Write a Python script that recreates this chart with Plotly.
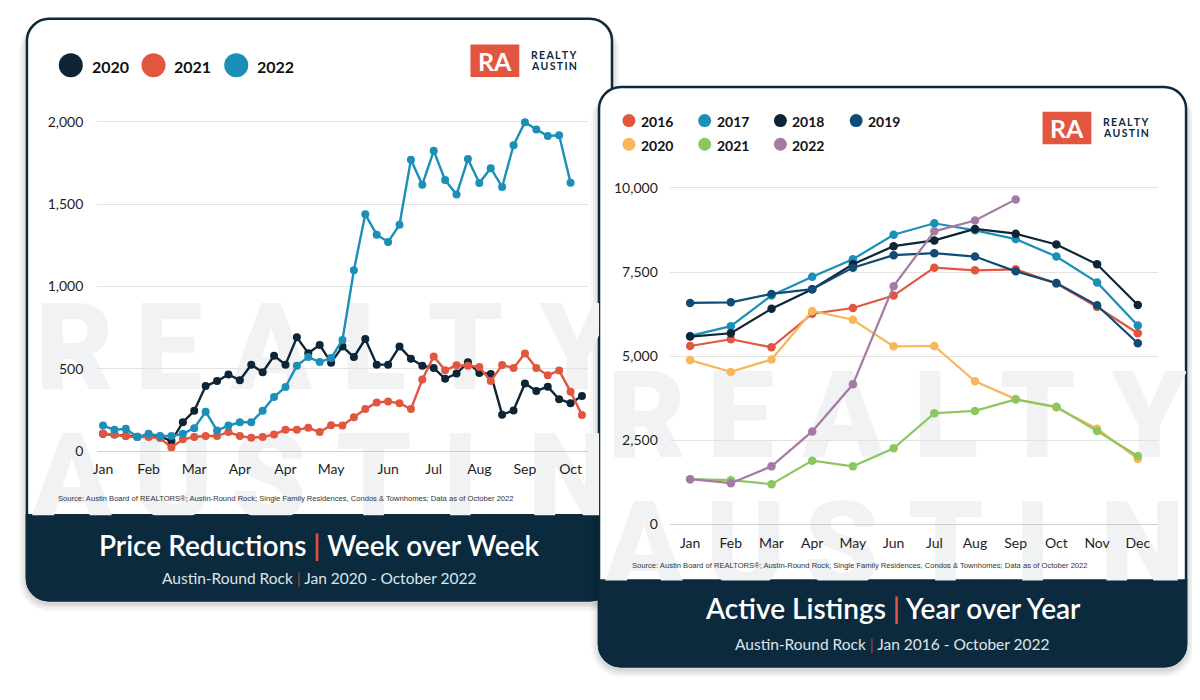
import plotly.graph_objects as go

# ---------------- data ----------------
# Price reductions, week over week (weeks Jan - Oct)
reduction_years = ["2020", "2021", "2022"]
week_no = list(range(1, 44))
week_tick_pos = [1, 5, 9, 13, 17, 21, 26, 30, 34, 38, 42]
week_tick_text = ["Jan", "Feb", "Mar", "Apr", "Apr", "May", "Jun", "Jul", "Aug", "Sep", "Oct"]

reductions_2020 = [104, 100, 92, 86, 90, 88, 60, 174, 244, 394, 424, 464, 430, 524, 478,
                   578, 524, 690, 594, 644, 536, 634, 570, 680, 524, 524, 634, 560, 518,
                   504, 438, 470, 538, 474, 468, 220, 246, 410, 364, 390, 314, 290, 334]
reductions_2021 = [104, 100, 90, 84, 84, 78, 20, 70, 84, 90, 90, 114, 90, 80, 84, 100, 128,
                   128, 140, 114, 156, 154, 204, 254, 294, 300, 290, 254, 434, 574, 490,
                   520, 518, 510, 424, 522, 504, 592, 504, 460, 488, 360, 218]
reductions_2022 = [154, 128, 134, 84, 104, 90, 90, 104, 138, 238, 124, 154, 174, 174, 244,
                   328, 388, 518, 570, 540, 564, 674, 1098, 1438, 1314, 1270, 1374, 1770,
                   1618, 1824, 1646, 1558, 1774, 1628, 1718, 1604, 1858, 1998, 1954, 1914,
                   1918, 1630]

# Active listings, year over year
listing_years = ["2016", "2017", "2018", "2019", "2020", "2021", "2022"]
months = ["Jan", "Feb", "Mar", "Apr", "May", "Jun", "Jul", "Aug", "Sep", "Oct", "Nov", "Dec"]
listings_2016 = [5300, 5500, 5260, 6260, 6430, 6800, 7630, 7550, 7580, 7160, 6460, 5680]
listings_2017 = [5600, 5890, 6800, 7360, 7880, 8610, 8950, 8740, 8480, 7960, 7190, 5910]
listings_2018 = [5580, 5680, 6410, 6990, 7730, 8270, 8440, 8780, 8640, 8320, 7730, 6520]
listings_2019 = [6580, 6600, 6850, 6990, 7630, 8000, 8060, 7960, 7520, 7170, 6510, 5380]
listings_2020 = [4880, 4530, 4900, 6340, 6080, 5290, 5300, 4250, 3720, 3470, 2840, 1940]
listings_2021 = [1340, 1310, 1190, 1890, 1720, 2260, 3300, 3370, 3710, 3490, 2770, 2030]
listings_2022 = [1340, 1220, 1720, 2760, 4160, 7080, 8710, 9030, 9660]

source_text = ("Source: Austin Board of REALTORS®; Austin-Round Rock; Single Family Residences, "
               "Condos & Townhomes; Data as of October 2022")

# ---------------- style ----------------
# the page body keeps its 8px margin, so the figure is 8px smaller and all
# layout coordinates below are given in window pixels
PAD = 8
W, H = 1200 - PAD, 700 - PAD
NAVY = "#0c2a3d"
RED = "#e2553f"
left_colors = ["#0d2536", RED, "#1b8fb8"]
right_colors = [RED, "#1b8fb8", "#0d2536", "#0f4c75", "#f6b75c", "#8cc65e", "#a47aa4"]
WATERMARK = "#f1f2f4"
TICK_FONT = dict(family="Lato", size=14, color="#1e1e1e")

# card boxes in pixels (x0, y0, x1, y1) and top of the dark footer band
LEFT_CARD = (23, 18, 610, 607)
LEFT_BAND = 521
RIGHT_CARD = (597, 87, 1186, 674)
RIGHT_BAND = 587


def fx(x):
    return (x - PAD) / W


def fy(y):
    return 1 - (y - PAD) / H


def rounded_path(x0, y0, x1, y1, r, top=True, bottom=True):
    """Rounded rectangle given in pixels, returned as a paper-coordinate svg path."""
    k = 0.45
    rx, ry = r / W, r / H
    X0, X1, Yt, Yb = fx(x0), fx(x1), fy(y0), fy(y1)
    if top:
        p = (f"M{X0},{Yt - ry} C{X0},{Yt - ry * k} {X0 + rx * k},{Yt} {X0 + rx},{Yt} "
             f"L{X1 - rx},{Yt} C{X1 - rx * k},{Yt} {X1},{Yt - ry * k} {X1},{Yt - ry} ")
    else:
        p = f"M{X0},{Yt} L{X1},{Yt} "
    if bottom:
        p += (f"L{X1},{Yb + ry} C{X1},{Yb + ry * k} {X1 - rx * k},{Yb} {X1 - rx},{Yb} "
              f"L{X0 + rx},{Yb} C{X0 + rx * k},{Yb} {X0},{Yb + ry * k} {X0},{Yb + ry} Z")
    else:
        p += f"L{X1},{Yb} L{X0},{Yb} Z"
    return p


def card_shapes(box, band_top):
    x0, y0, x1, y1 = box
    shapes = []
    # soft drop shadow, mostly below the card
    for i, a in enumerate([0.03, 0.035, 0.04, 0.05]):
        g = 8 - i * 2
        shapes.append(dict(type="path", xref="paper", yref="paper", layer="below",
                           path=rounded_path(x0 - g, y0 + 4, x1 + g, y1 + g + 3, 22 + g),
                           fillcolor=f"rgba(0,0,0,{a})", line=dict(width=0)))
    shapes.append(dict(type="path", xref="paper", yref="paper", layer="below",
                       path=rounded_path(x0, y0, x1, y1, 22),
                       fillcolor="white", line=dict(color=NAVY, width=2.5)))
    shapes.append(dict(type="path", xref="paper", yref="paper", layer="below",
                       path=rounded_path(x0, band_top, x1, y1, 22, top=False),
                       fillcolor=NAVY, line=dict(color=NAVY, width=2.5)))
    return shapes


def logo(x0, y0):
    shape = dict(type="rect", xref="paper", yref="paper", layer="below",
                 x0=fx(x0), x1=fx(x0 + 49), y0=fy(y0 + 33), y1=fy(y0),
                 fillcolor=RED, line=dict(width=0))
    notes = [
        dict(text="<b>RA</b>", x=fx(x0 + 24.5), y=fy(y0 + 17), font=dict(family="Lato", size=25, color="white")),
        dict(text="<b>R\u2009E\u2009A\u2009L\u2009T\u2009Y</b>", x=fx(x0 + 59), y=fy(y0 + 10.5),
             xanchor="left", font=dict(family="Lato", size=10.5, color=NAVY)),
        dict(text="<b>A\u2009U\u2009S\u2009T\u2009I\u2009N</b>", x=fx(x0 + 59), y=fy(y0 + 21.5),
             xanchor="left", font=dict(family="Lato", size=10.5, color=NAVY)),
    ]
    return shape, notes


def watermark_traces(box, axes):
    # big faint REALTY / AUSTIN letters behind each chart (pixel coordinates)
    x0, y0 = box[0], box[1]
    rows = [("REALTY", [48, 142, 245, 348, 440, 552], 345),
            ("AUSTIN", [45, 147, 243, 348, 435, 545], 476)]
    traces = []
    for word, offs, dy in rows:
        traces.append(go.Scatter(
            x=[x0 + o for o in offs], y=[y0 + dy] * len(word), text=list(word),
            mode="text", textposition="middle center", cliponaxis=True,
            textfont=dict(family="Roboto", size=120, color=WATERMARK, weight=900),
            hoverinfo="skip", showlegend=False, xaxis=axes[0], yaxis=axes[1]))
    return traces


fig = go.Figure()

# watermark layers (drawn first, clipped at the footer band)
for tr in watermark_traces(LEFT_CARD, ("x", "y")) + watermark_traces(RIGHT_CARD, ("x2", "y2")):
    fig.add_trace(tr)

# legends drawn as coloured dots
fig.add_trace(go.Scatter(
    x=[67 + 83 * i for i in range(len(reduction_years))], y=[65] * len(reduction_years),
    mode="markers", marker=dict(size=24, color=left_colors), hoverinfo="skip",
    showlegend=False, xaxis="x", yaxis="y"))
fig.add_trace(go.Scatter(
    x=[627 + 76 * (i % 4) for i in range(len(listing_years))],
    y=[121 + 24 * (i // 4) for i in range(len(listing_years))],
    mode="markers", marker=dict(size=13, color=right_colors), hoverinfo="skip",
    showlegend=False, xaxis="x2", yaxis="y2"))

# price reductions
for name, vals, col in zip(reduction_years, [reductions_2020, reductions_2021, reductions_2022], left_colors):
    fig.add_trace(go.Scatter(
        x=week_no[:len(vals)], y=vals, name=name, mode="lines+markers", cliponaxis=False,
        line=dict(color=col, width=2.4), marker=dict(size=8, color=col),
        showlegend=False, xaxis="x3", yaxis="y3"))

# active listings
listing_series = [listings_2016, listings_2017, listings_2018, listings_2019,
                  listings_2020, listings_2021, listings_2022]
for name, vals, col in zip(listing_years, listing_series, right_colors):
    fig.add_trace(go.Scatter(
        x=months[:len(vals)], y=vals, name=name, mode="lines+markers", cliponaxis=False,
        line=dict(color=col, width=2.2), marker=dict(size=8.5, color=col),
        showlegend=False, xaxis="x4", yaxis="y4"))

shapes = card_shapes(LEFT_CARD, LEFT_BAND) + card_shapes(RIGHT_CARD, RIGHT_BAND)
annotations = []
for lx, ly in [(468, 44), (1042, 112)]:
    s, notes = logo(lx, ly)
    shapes.append(s)
    for n in notes:
        n.setdefault("xanchor", "center")
        annotations.append(n)

# legend labels
for i, yr in enumerate(reduction_years):
    annotations.append(dict(text=f"<b>{yr}</b>", x=fx(67 + 83 * i + 19), y=fy(66),
                            font=dict(family="Lato", size=16, color="#111")))
for i, yr in enumerate(listing_years):
    annotations.append(dict(text=f"<b>{yr}</b>", x=fx(627 + 76 * (i % 4) + 10), y=fy(122 + 24 * (i // 4)),
                            font=dict(family="Lato", size=14, color="#111")))

# sources, titles, subtitles
for cx, src_x, src_y, title_y, sub_y, title, second, sub in [
    (316.5, 52, 504, 551, 584, "Price Reductions", "Week over Week", "Jan 2020 - October 2022"),
    (891.5, 628, 572, 615, 651, "Active Listings", "Year over Year", "Jan 2016 - October 2022"),
]:
    annotations.append(dict(text=source_text, x=fx(src_x), y=fy(src_y),
                            font=dict(family="Liberation Sans", size=7.6, color="#333")))
    annotations.append(dict(
        text=f"{title} <span style='color:{RED}'>|</span> {second}",
        x=fx(cx), y=fy(title_y), xanchor="center",
        font=dict(family="Lato", size=28, color="white", weight=600)))
    annotations.append(dict(
        text=f"Austin-Round Rock <span style='color:#a8463b'>|</span> {sub}",
        x=fx(cx), y=fy(sub_y), xanchor="center",
        font=dict(family="Lato", size=15.5, color="#dde5ea")))

for a in annotations:
    a.setdefault("xanchor", "left")
    a.update(xref="paper", yref="paper", showarrow=False, yanchor="middle")

hidden = dict(visible=False, fixedrange=True)
fig.update_layout(
    width=W, height=H, autosize=False,
    margin=dict(l=0, r=0, t=0, b=0),
    paper_bgcolor="white", plot_bgcolor="rgba(0,0,0,0)",
    shapes=shapes, annotations=annotations, hovermode=False,
    xaxis=dict(domain=[fx(LEFT_CARD[0]), fx(RIGHT_CARD[0])], range=[LEFT_CARD[0], RIGHT_CARD[0]], **hidden),
    yaxis=dict(domain=[fy(LEFT_BAND), fy(LEFT_CARD[1])], range=[LEFT_BAND, LEFT_CARD[1]], **hidden),
    xaxis2=dict(domain=[fx(RIGHT_CARD[0]), fx(RIGHT_CARD[2])], range=[RIGHT_CARD[0], RIGHT_CARD[2]], **hidden),
    yaxis2=dict(domain=[fy(RIGHT_BAND), fy(RIGHT_CARD[1])], range=[RIGHT_BAND, RIGHT_CARD[1]], **hidden),
    xaxis3=dict(domain=[fx(93.6), fx(585.6)], range=[0.5, 43.5], anchor="y3",
                tickvals=week_tick_pos, ticktext=week_tick_text, showgrid=False,
                showline=True, linecolor="#cfcfcf", linewidth=1.3, ticks="",
                tickfont=TICK_FONT, ticklabelstandoff=5, zeroline=False),
    yaxis3=dict(domain=[fy(455.7), fy(114.0)], range=[0, 2050], anchor="x3",
                tickvals=[0, 500, 1000, 1500, 2000], tickformat=",", showgrid=True,
                gridcolor="#e2e2e2", gridwidth=1.2, zeroline=False, ticks="",
                tickfont=TICK_FONT, ticklabelstandoff=13),
    xaxis4=dict(domain=[fx(668), fx(1158)], range=[-0.5, 11.5], anchor="y4",
                type="category", showgrid=False, showline=True, linecolor="#cfcfcf",
                linewidth=1.3, ticks="", tickfont=TICK_FONT, ticklabelstandoff=6),
    yaxis4=dict(domain=[fy(530), fy(180.8)], range=[0, 10250], anchor="x4",
                tickvals=[0, 2500, 5000, 7500, 10000], tickformat=",", showgrid=True,
                gridcolor="#e2e2e2", gridwidth=1.2, zeroline=False, ticks="",
                tickfont=TICK_FONT, ticklabelstandoff=11),
)

fig.write_html("out.html")
